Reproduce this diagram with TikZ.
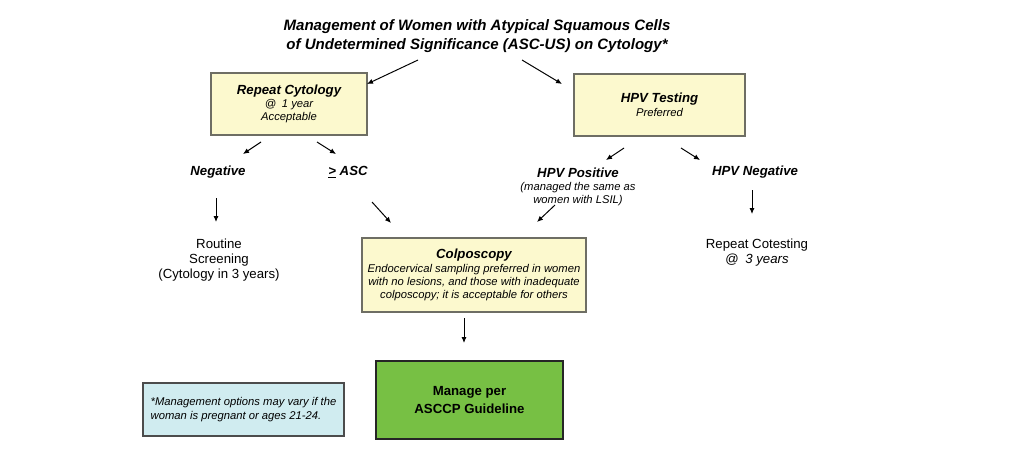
\documentclass[tikz,border=0pt]{standalone}
\usepackage{fontspec}
\setmainfont{Liberation Sans}
\usetikzlibrary{arrows.meta,calc}
\definecolor{ascyellow}{RGB}{252,249,206}
\definecolor{ascgreen}{RGB}{119,192,68}
\definecolor{ascblue}{RGB}{208,236,240}
\definecolor{ascedge}{RGB}{110,110,100}
\tikzset{
  ybox/.style={rectangle, draw=ascedge, fill=ascyellow, line width=0.8pt, align=center,
               inner sep=0pt, font=\fontsize{8}{9.3}\selectfont\itshape},
  lbl/.style={align=center, inner sep=0pt, font=\fontsize{9.4}{10.7}\selectfont},
  farr/.style={-{Latex[length=1.5mm,width=1.3mm]}, line width=0.7pt, black},
}
\newcommand{\hd}[1]{{\fontsize{9.4}{11}\selectfont\bfseries\itshape #1}}

\begin{document}
\begin{tikzpicture}[x=0.025cm,y=-0.025cm]
        \useasboundingbox (0,0) rectangle (1036,467);
        \node[align=center,inner sep=0pt,font=\fontsize{10.7}{13.5}\selectfont\bfseries\itshape](title) at (477,36){Management of Women with Atypical Squamous Cells\\of Undetermined Significance (ASC-US) on Cytology*};
        \node[ybox,minimum width=3.9cm,minimum height=1.55cm](rc) at (289,104){\hd{Repeat Cytology}\\@\enspace 1 year\\Acceptable};
        \node[ybox,minimum width=4.275cm,minimum height=1.55cm](hpv) at (659.5,105){\hd{HPV Testing}\\[1pt]Preferred};
        \node[lbl](neg) at (218,172){\hd{Negative}};
        \node[lbl](asc) at (348,172){\hd{\underline{>} ASC}};
        \node[lbl](routine) at (219,260){Routine\\Screening\\(Cytology in 3 years)};
        \node[lbl,font=\fontsize{8}{9.2}\selectfont\itshape](hpvp) at (578,187){\hd{HPV Positive}\\(managed the same as\\women with LSIL)};
        \node[lbl](hpvn) at (755,172){\hd{HPV Negative}};
        \node[lbl](cotest) at (757,253){Repeat Cotesting\\@\enspace\textit{3 years}};
        \node[ybox,minimum width=5.6cm,minimum height=1.85cm](colpo) at (474,275){\hd{Colposcopy}\\[1pt]Endocervical sampling preferred in women\\with no lesions, and those with inadequate\\colposcopy; it is acceptable for others};
        \node[rectangle,draw=black!85,fill=ascgreen,line width=0.8pt,minimum width=4.675cm,minimum height=1.95cm,inner sep=0pt,align=center,font=\fontsize{9.4}{12.8}\selectfont\bfseries](manage) at (469.5,400){Manage per\\ASCCP Guideline};
        \node[rectangle,draw=black!70,fill=ascblue,line width=0.8pt,minimum width=5.025cm,minimum height=1.325cm,inner sep=0pt,align=left,font=\fontsize{8}{9.4}\selectfont\itshape](note) at (243.5,409.5){*Management options may vary if the\\woman is pregnant or ages 21-24.};
        \draw[farr]($(title.center)+(-59,24)$)--($(rc.center)+(78,-20)$);
        \draw[farr]($(title.center)+(45,24)$)--($(hpv.center)+(-97.5,-21)$);
        \draw[farr]($(rc.center)+(-28,38)$)--($(neg.center)+(25,-18)$);
        \draw[farr]($(rc.center)+(28,38)$)--($(asc.center)+(-12,-18)$);
        \draw[farr]($(neg.center)+(-2,26)$)--($(routine.center)+(-3,-38)$);
        \draw[farr]($(asc.center)+(24,30)$)--($(colpo.center)+(-83,-52)$);
        \draw[farr]($(hpv.center)+(-35.5,43)$)--($(hpvp.center)+(28,-27)$);
        \draw[farr]($(hpv.center)+(21.5,43)$)--($(hpvn.center)+(-55,-12)$);
        \draw[farr]($(hpvp.center)+(-23,18)$)--($(colpo.center)+(63,-53)$);
        \draw[farr]($(hpvn.center)+(-3,18)$)--($(cotest.center)+(-5,-39)$);
        \draw[farr]($(colpo.center)+(-10,43)$)--($(manage.center)+(-5.5,-57)$);
    \end{tikzpicture}
\end{document}
